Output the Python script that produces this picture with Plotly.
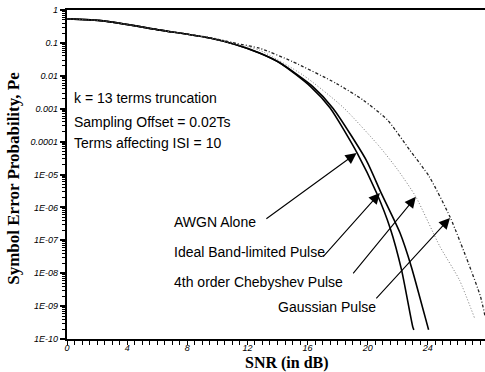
import plotly.graph_objects as go

# ---------------- data ----------------
snr_awgn = [0, 2.4, 6.2, 9.5, 11.2, 12.8, 14.2, 16.2, 17.5, 19.3, 20.6, 21.5, 22.25, 23.0, 23.07]
pe_awgn = [0.537, 0.468, 0.245, 0.141, 0.089, 0.049, 0.024, 4.7e-3, 1.05e-3, 4.5e-5, 2.7e-6, 2.3e-7, 1.26e-8, 2.3e-10, 1.9e-10]

snr_ideal = [0, 2.4, 6.2, 9.5, 11.2, 12.8, 14.2, 16.35, 17.7, 19.9, 20.9, 22.15, 22.9, 24.0, 24.05]
pe_ideal = [0.537, 0.468, 0.245, 0.141, 0.089, 0.049, 0.024, 4.7e-3, 1.02e-3, 2.75e-5, 2.7e-6, 1.66e-7, 1.58e-8, 2.3e-10, 1.9e-10]

snr_cheb = [0, 2.4, 6.2, 9.5, 11.2, 12.8, 15.7, 18.35, 20.8, 22.0, 23.2, 24.8, 26.1, 27.1]
pe_cheb = [0.537, 0.468, 0.245, 0.141, 0.092, 0.060, 0.0105, 1.12e-3, 6.9e-5, 1.38e-5, 2.1e-6, 6.5e-8, 6.2e-9, 4.4e-10]

snr_gauss = [0, 2.4, 6.2, 9.5, 11.2, 12.8, 15.0, 17.9, 19.7, 21.3, 22.8, 24.1, 25.5, 26.7, 27.5, 27.8]
pe_gauss = [0.537, 0.468, 0.245, 0.145, 0.098, 0.069, 0.027, 5.9e-3, 1.82e-3, 4.6e-4, 5.5e-5, 8.5e-6, 4.8e-7, 2.0e-8, 1.95e-9, 5.0e-10]

x_tickvals = [0, 4, 8, 12, 16, 20, 24]
x_ticktext = ["0", "4", "8", "12", "16", "20", "24"]
y_tickvals = [1, 1e-1, 1e-2, 1e-3, 1e-4, 1e-5, 1e-6, 1e-7, 1e-8, 1e-9, 1e-10]
y_ticktext = ["1", "0.1", "0.01", "0.001", "0.0001", "1E-05", "1E-06", "1E-07", "1E-08", "1E-09", "1E-10"]
y_minorvals = [m * 10.0 ** (-d) for d in range(1, 11) for m in range(2, 10)]

labels = ["AWGN Alone", "Ideal Band-limited Pulse", "4th order Chebyshev Pulse", "Gaussian Pulse"]
info_lines = ["k = 13 terms truncation", "Sampling Offset = 0.02Ts", "Terms affecting ISI = 10"]

# ---------------- figure ----------------
fig = go.Figure()
fig.add_trace(go.Scatter(x=snr_awgn, y=pe_awgn, mode="lines", line=dict(color="black", width=1.6, shape="spline", smoothing=0.6)))
fig.add_trace(go.Scatter(x=snr_ideal, y=pe_ideal, mode="lines", line=dict(color="black", width=1.6, shape="spline", smoothing=0.6)))
fig.add_trace(go.Scatter(x=snr_cheb, y=pe_cheb, mode="lines", line=dict(color="#777777", width=1.0, dash="1px,2px", shape="spline", smoothing=0.6)))
fig.add_trace(go.Scatter(x=snr_gauss, y=pe_gauss, mode="lines", line=dict(color="#222222", width=1.3, dash="3px,2px,1px,2px", shape="spline", smoothing=0.6)))

txt_font = dict(family="Liberation Sans, Arial", size=14, color="black")

# info text block
info_x = 0.33
info_y = [-2.67, -3.40, -4.04]
for t, yy in zip(info_lines, info_y):
    fig.add_annotation(x=info_x, y=yy, text=t, showarrow=False, xanchor="left", yanchor="middle", font=txt_font)

# curve labels
lab_x = [6.98, 6.98, 6.98, 13.9]
lab_y = [-6.44, -7.36, -8.27, -9.03]
for t, xx, yy in zip(labels, lab_x, lab_y):
    fig.add_annotation(x=xx, y=yy, text=t, showarrow=False, xanchor="left", yanchor="middle", font=txt_font)

# arrows (tail -> tip)
tip_x = [19.26, 20.81, 23.2, 25.47]
tip_y = [-4.35, -5.56, -5.68, -6.32]
tail_x = [13.16, 16.95, 18.95, 20.48]
tail_y = [-6.38, -7.54, -8.05, -8.81]
for tx, ty, sx, sy in zip(tip_x, tip_y, tail_x, tail_y):
    fig.add_annotation(x=tx, y=ty, ax=sx, ay=sy, axref="x", ayref="y", text="",
                       showarrow=True, arrowhead=2, arrowsize=2.0, arrowwidth=1.1, arrowcolor="black")

# axis titles
title_font = dict(family="Liberation Serif, Times New Roman", size=16, color="black", weight="bold")
fig.add_annotation(xref="paper", yref="paper", x=0.526, y=-0.072, text="<b>SNR (in dB)</b>",
                   showarrow=False, xanchor="center", yanchor="middle", font=title_font)
fig.add_annotation(xref="paper", yref="paper", x=-0.13, y=0.489, text="<b>Symbol Error Probability, Pe</b>",
                   showarrow=False, xanchor="center", yanchor="middle", textangle=-90,
                   font=dict(family="Liberation Serif, Times New Roman", size=17, color="black", weight="bold"))

tick_font = dict(family="Liberation Sans, Arial", size=9, color="black", style="italic")

fig.update_xaxes(range=[0, 27.8], showline=True, linecolor="black", linewidth=1.5, mirror=True,
                 showgrid=False, zeroline=False, ticks="outside", ticklen=4, tickwidth=1.2, tickcolor="black",
                 ticklabelstandoff=-5,
                 tickmode="array", tickvals=x_tickvals, ticktext=x_ticktext, tickfont=tick_font,
                 minor=dict(ticks="outside", dtick=0.5, ticklen=4, tickwidth=1.2, tickcolor="black", showgrid=False))
fig.update_yaxes(type="log", range=[-10, 0], showline=True, linecolor="black", linewidth=2.2,
                 showgrid=False, zeroline=False, ticks="outside", ticklen=5, tickwidth=2, tickcolor="black",
                 tickmode="array", tickvals=y_tickvals, ticktext=y_ticktext, tickfont=tick_font,
                 minor=dict(ticks="outside", tickvals=y_minorvals, ticklen=3, tickwidth=1.3, tickcolor="black", showgrid=False))

fig.update_layout(width=485, height=372, margin=dict(l=67, r=0, t=10, b=33),
                  plot_bgcolor="white", paper_bgcolor="white", showlegend=False)

fig.write_html("out.html")
